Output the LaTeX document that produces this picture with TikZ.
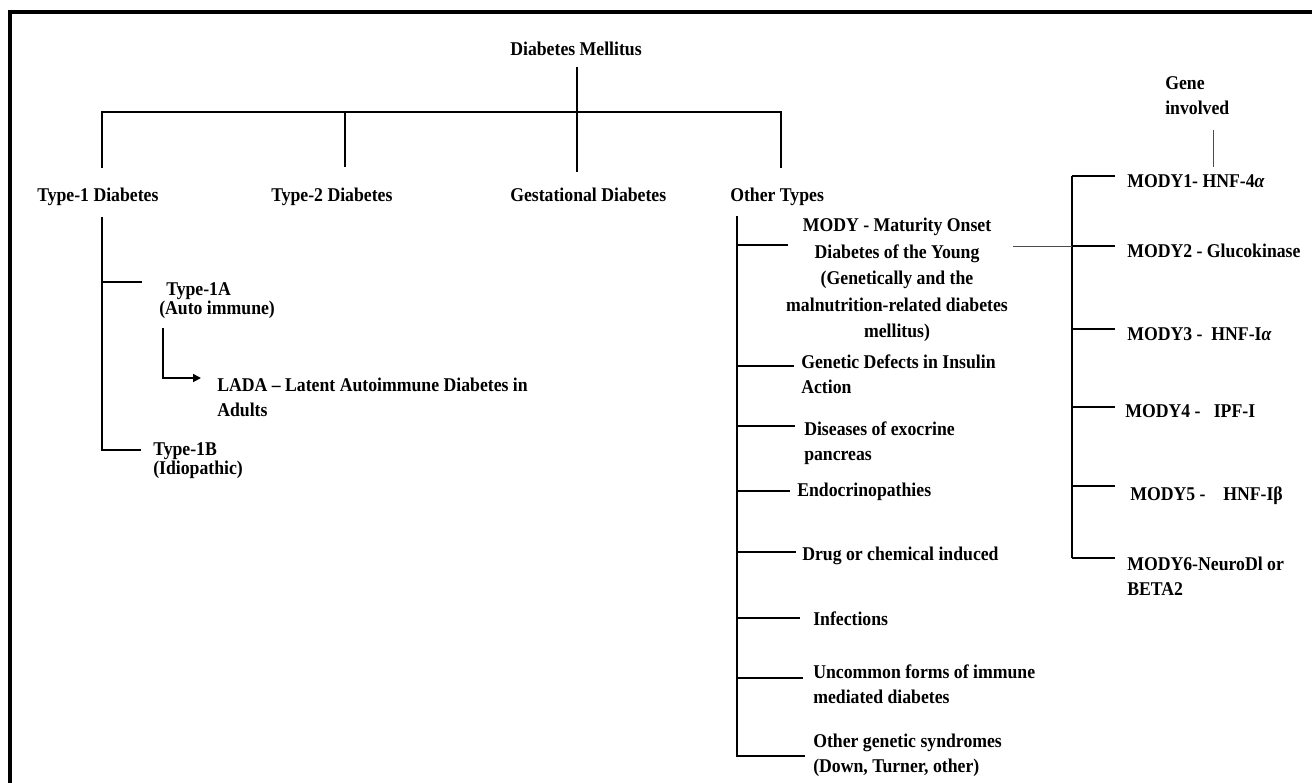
\documentclass[tikz,border=0pt]{standalone}
\usepackage{fontspec}
\setmainfont{Liberation Serif}[FakeStretch=0.91]
\usetikzlibrary{arrows.meta}
\newcommand\lblfont{\fontsize{14.6}{18.75}\selectfont\bfseries}
\newcommand\mblkfont{\fontsize{14.6}{19.9}\selectfont\bfseries}
\newcommand\tightfont{\fontsize{14.6}{14.6}\selectfont\bfseries}
\begin{document}
\begin{tikzpicture}[x=0.75pt,y=-0.75pt,
  lbl/.style={inner sep=0pt,font=\lblfont,anchor=base west},
  blk/.style={inner sep=0pt,font=\lblfont,align=left,anchor=north west},
  mainline/.style={line width=1.65pt},
  tickline/.style={line width=1.3pt},
  stemline/.style={line width=1.05pt},
  thinline/.style={line width=0.7pt,black!70}]
\useasboundingbox (0,0) rectangle (1312,782);
\clip (0,0) rectangle (1312,782);
% frame
\draw[line width=3pt,line join=miter] (10,830) -- (10,11.5) -- (1340,11.5);

% ---------- top level ----------
\node[lbl,anchor=base] (dm) at (576,55) {Diabetes Mellitus};
\node[lbl] (t1) at (37,201) {Type-1 Diabetes};
\node[lbl] (t2) at (271,201) {Type-2 Diabetes};
\node[lbl] (gd) at (510,201) {Gestational Diabetes};
\node[lbl] (ot) at (730,201) {Other Types};

\coordinate (rootTop) at (577,67);
\coordinate (barL) at (102,112);
\coordinate (barR) at (781,112);
\coordinate (t1Top) at (102,168);
\coordinate (t2Bar) at (345,112);
\coordinate (t2Top) at (345,167);
\coordinate (gdTop) at (577,172);
\coordinate (otTop) at (781,168);

\draw[mainline] (rootTop) -- (gdTop);
\draw[mainline] (t1Top) -- (barL) -- (barR) -- (otTop);
\draw[mainline] (t2Bar) -- (t2Top);

% ---------- Type-1 subtree ----------
\node[blk,font=\tightfont] (t1a) at (159,282) {\hspace{5.25pt}Type-1A\\(Auto immune)};
\node[blk] (lada) at (217,378) {LADA -- Latent Autoimmune Diabetes in\\Adults};
\node[blk,font=\tightfont] (t1b) at (153,442) {Type-1B\\(Idiopathic)};

\coordinate (t1s) at (102,217);
\coordinate (t1aJ) at (102,282);
\coordinate (t1aE) at (142,282);
\coordinate (t1bJ) at (102,450);
\coordinate (t1bE) at (141,450);
\draw[stemline] (t1s) -- (t1bJ) -- (t1bE);
\draw[tickline] (t1aJ) -- (t1aE);

\coordinate (ladaS) at (163,328);
\coordinate (ladaTip) at (201,378);
\draw[tickline,-{Triangle[length=6pt,width=6pt]}] (ladaS) |- (ladaTip);

% ---------- Other types subtree ----------
\node[inner sep=0pt,font=\mblkfont,align=center,anchor=north] (mody) at (897,218)
  {MODY - Maturity Onset\\Diabetes of the Young\\(Genetically and the\\malnutrition-related diabetes\\mellitus)};
\node[blk] (gdi) at (801,355) {Genetic Defects in Insulin\\Action};
\node[blk] (dex) at (804,422) {Diseases of exocrine\\pancreas};
\node[lbl] (endo) at (797,496) {Endocrinopathies};
\node[lbl] (drug) at (802,560) {Drug or chemical induced};
\node[lbl] (inf) at (813,625) {Infections};
\node[blk] (unc) at (813,665) {Uncommon forms of immune\\mediated diabetes};
\node[blk] (ogs) at (813,734) {Other genetic syndromes\\(Down, Turner, other)};

\coordinate (ots) at (737,216);
\coordinate (otB) at (737,756);
\coordinate (oMj) at (737,245);  \coordinate (oMe) at (788,245);
\coordinate (oGj) at (737,366);  \coordinate (oGe) at (794,366);
\coordinate (oDj) at (737,426);  \coordinate (oDe) at (795,426);
\coordinate (oEj) at (737,491);  \coordinate (oEe) at (790,491);
\coordinate (oCj) at (737,552);  \coordinate (oCe) at (796,552);
\coordinate (oIj) at (737,618);  \coordinate (oIe) at (800,618);
\coordinate (oUj) at (737,678);  \coordinate (oUe) at (803,678);
\coordinate (oOe) at (805,756);
\draw[stemline] (ots) -- (otB) -- (oOe);
\foreach \a/\b in {oMj/oMe,oGj/oGe,oDj/oDe,oEj/oEe,oCj/oCe,oIj/oIe,oUj/oUe}
  \draw[tickline] (\a) -- (\b);

% ---------- MODY genes ----------
\node[blk] (gene) at (1165,76) {Gene\\involved};
\node[lbl] (m1) at (1127,187) {MODY1- HNF-4\textit{α}};
\node[lbl] (m2) at (1127,257) {MODY2 - Glucokinase};
\node[lbl] (m3) at (1127,340) {MODY3 -\ \ HNF-I\textit{α}};
\node[lbl] (m4) at (1125,417) {MODY4 -\ \ \ IPF-I};
\node[lbl] (m5) at (1130,500) {MODY5 -\ \ \ \ HNF-Iβ};
\node[blk] (m6) at (1127,557) {MODY6-NeuroDl or\\BETA2};

\coordinate (geneT) at (1213,130);
\coordinate (geneB) at (1213,167);
\draw[thinline] (geneT) -- (geneB);

\coordinate (brT) at (1072,176);
\coordinate (brB) at (1072,558);
\coordinate (b1e) at (1115,176);
\coordinate (b2j) at (1072,246); \coordinate (b2e) at (1115,246);
\coordinate (b3j) at (1072,329); \coordinate (b3e) at (1115,329);
\coordinate (b4j) at (1072,407); \coordinate (b4e) at (1115,407);
\coordinate (b5j) at (1072,486); \coordinate (b5e) at (1115,486);
\coordinate (b6e) at (1115,558);
\draw[stemline] (brT) -- (brB);
\foreach \a/\b in {b2j/b2e,b3j/b3e,b4j/b4e,b5j/b5e}
  \draw[tickline] (\a) -- (\b);
\draw[tickline] (b1e) -- (brT);
\draw[tickline] (brB) -- (b6e);

\coordinate (modyOut) at (1013,246);
\draw[thinline] (modyOut) -- (b2j);
\end{tikzpicture}
\end{document}
